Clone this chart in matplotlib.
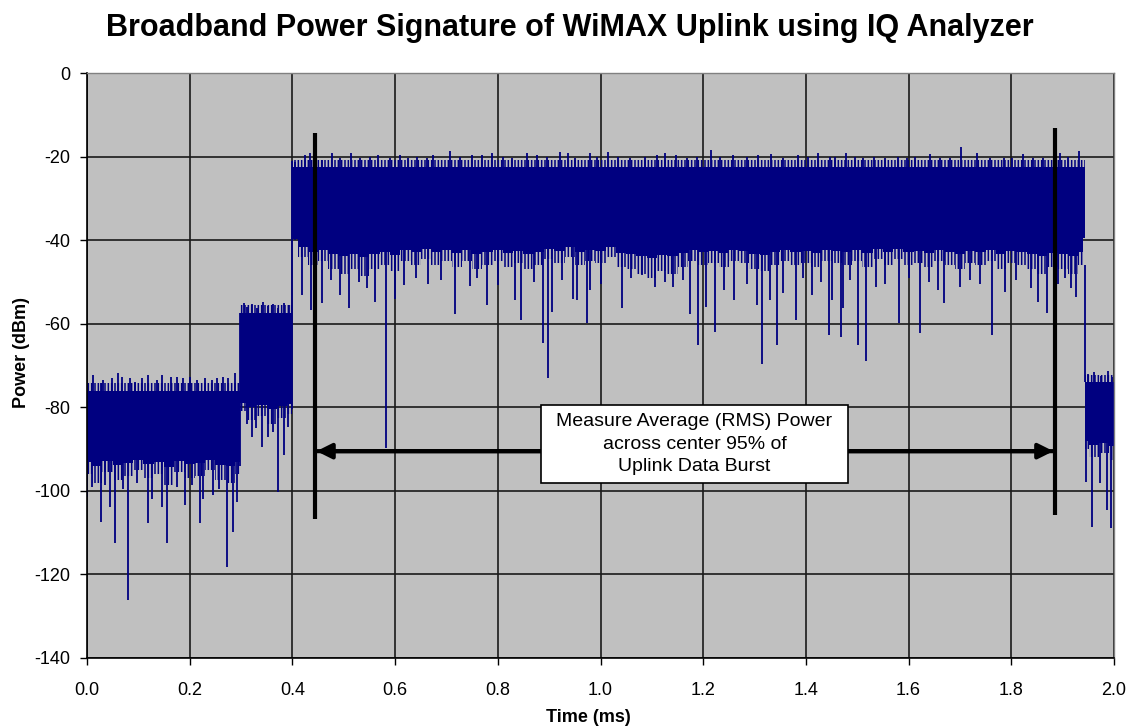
import numpy as np
import matplotlib
matplotlib.use('Agg')
from matplotlib import pyplot as plt
from matplotlib.patches import Rectangle

plt.rcParams['font.family'] = ['Liberation Sans', 'DejaVu Sans']
plt.rcParams['axes.unicode_minus'] = False
plt.rcParams['hatch.linewidth'] = 1.1

navy = '#000080'

# Solid core of each burst segment: start/end (ms), upper and inner lower level (dBm)
seg_start = [0.0, 0.298, 0.400, 1.943]
seg_end = [0.298, 0.400, 1.943, 2.0]
seg_top = [-76.0, -57.4, -22.6, -74.0]
seg_core = [-90.0, -77.0, -39.5, -86.0]

# Ragged lower edge of the dense part, read every 0.02 ms
edge_t_pre = [0.0, 0.02, 0.04, 0.06, 0.08, 0.10, 0.12, 0.14, 0.16, 0.18, 0.20, 0.22, 0.24, 0.26, 0.28, 0.298]
edge_v_pre = [-96.0, -98.0, -95.5, -97.5, -96.5, -95.0, -97.0, -96.0, -98.5, -95.5, -97.0, -96.5, -95.0, -97.5, -98.0, -96.0]
edge_t_pre2 = [0.298, 0.32, 0.34, 0.36, 0.38, 0.400]
edge_v_pre2 = [-81.0, -83.0, -82.0, -84.0, -82.5, -81.5]
edge_v_data = [-40.0, -44.0, -46.0, -45.0, -47.0, -48.0, -47.0, -48.5, -47.0, -46.0,
               -47.5, -45.0, -46.0, -44.5, -46.0, -45.0, -46.5, -45.0, -47.0, -46.0,
               -45.0, -46.5, -45.5, -47.0, -46.0, -44.5, -45.5, -44.0, -46.0, -45.0,
               -45.5, -44.0, -46.5, -47.0, -48.0, -49.0, -47.5, -48.0, -46.5, -45.0,
               -46.0, -45.5, -46.5, -45.0, -45.5, -47.0, -47.5, -46.0, -45.0, -46.0,
               -45.5, -46.5, -45.0, -45.5, -46.0, -45.0, -46.5, -44.5, -46.0, -44.5,
               -46.0, -45.5, -46.5, -45.0, -46.0, -47.0, -45.5, -46.0, -45.0, -47.0,
               -45.5, -46.0, -47.0, -48.0, -46.5, -47.0, -48.0, -46.0]
edge_t_data = np.linspace(0.40, 1.94, len(edge_v_data))
edge_t_post = [1.943, 1.96, 1.98, 2.0]
edge_v_post = [-90.0, -92.0, -91.0, -92.5]

# Upward peaks above the dense part: time (ms), peak (dBm)
peak_t = [0.012, 0.027, 0.031, 0.049, 0.060, 0.068, 0.084, 0.094, 0.107, 0.119, 0.136, 0.146,
          0.164, 0.175, 0.187, 0.201, 0.214, 0.230, 0.243, 0.253, 0.265, 0.275, 0.288,
          0.305, 0.312, 0.322, 0.331, 0.343, 0.352, 0.363, 0.372, 0.384, 0.393,
          0.400, 0.405, 0.425, 0.434, 0.457, 0.477, 0.493, 0.514, 0.532, 0.551, 0.567, 0.590,
          0.610, 0.626, 0.642, 0.662, 0.674, 0.707, 0.726, 0.749, 0.769, 0.788, 0.811, 0.827,
          0.856, 0.876, 0.895, 0.921, 0.937, 0.950, 0.979, 0.993, 1.015, 1.035, 1.057, 1.087,
          1.110, 1.126, 1.148, 1.168, 1.187, 1.215, 1.233, 1.259, 1.285, 1.307, 1.333, 1.356,
          1.385, 1.405, 1.424, 1.447, 1.457, 1.479, 1.496, 1.512, 1.532, 1.554, 1.580, 1.596,
          1.613, 1.642, 1.661, 1.681, 1.703, 1.733, 1.758, 1.785, 1.801, 1.822, 1.843, 1.862,
          1.894, 1.911, 1.931,
          1.950, 1.962, 1.975, 1.988, 1.996]
peak_v = [-72.3, -74.3, -73.5, -73.1, -71.9, -72.7, -73.1, -73.9, -73.1, -72.3, -73.5, -72.3,
          -72.7, -72.7, -73.1, -72.7, -73.5, -73.1, -73.5, -73.1, -72.7, -73.1, -71.9,
          -55.0, -56.0, -55.2, -56.3, -54.8, -55.8, -55.4, -56.2, -55.0, -55.6,
          -21.0, -21.2, -19.6, -19.2, -20.8, -19.2, -20.4, -19.1, -20.4, -20.0, -19.6, -20.4,
          -19.6, -20.4, -20.0, -20.4, -19.6, -18.6, -20.0, -19.6, -19.6, -19.2, -20.0, -20.4,
          -19.2, -19.6, -20.0, -18.8, -19.2, -20.4, -19.2, -20.0, -18.8, -20.0, -20.4, -20.0,
          -19.6, -19.2, -19.6, -20.4, -20.0, -18.4, -20.0, -19.6, -20.0, -19.6, -19.4, -20.4,
          -19.6, -20.0, -19.1, -20.0, -20.0, -19.2, -20.0, -20.4, -20.0, -20.4, -20.0, -20.4,
          -20.0, -19.4, -20.4, -20.4, -17.6, -19.2, -20.4, -20.4, -20.4, -19.4, -20.4, -20.4,
          -19.2, -20.0, -18.6,
          -72.0, -71.5, -72.5, -71.2, -72.8]

# Downward dips below the dense part: time (ms), dip (dBm)
dip_t = [0.0, 0.027, 0.045, 0.055, 0.080, 0.119, 0.127, 0.146, 0.156, 0.191, 0.220, 0.226,
         0.245, 0.272, 0.284, 0.292, 0.010, 0.036, 0.070, 0.098, 0.175, 0.205, 0.258,
         0.311, 0.321, 0.341, 0.352, 0.372, 0.384, 0.391, 0.330, 0.362,
         0.419, 0.436, 0.458, 0.493, 0.510, 0.561, 0.582, 0.600, 0.617, 0.717, 0.779, 0.800,
         0.834, 0.845, 0.888, 0.898, 0.906, 0.946, 0.954, 0.974, 0.980, 1.042, 1.081, 1.106,
         1.141, 1.174, 1.190, 1.205, 1.223, 1.241, 1.260, 1.305, 1.315, 1.330, 1.344, 1.356,
         1.381, 1.412, 1.445, 1.451, 1.468, 1.472, 1.501, 1.517, 1.537, 1.581, 1.622, 1.657,
         1.669, 1.700, 1.762, 1.788, 1.838, 1.852, 1.869, 1.916, 1.926,
         0.445, 0.475, 0.530, 0.545, 0.640, 0.665, 0.690, 0.745, 0.760, 0.870, 0.925, 1.000,
         1.060, 1.125, 1.160, 1.285, 1.395, 1.430, 1.485, 1.555, 1.600, 1.640, 1.720, 1.740,
         1.810, 1.890, 1.905,
         1.945, 1.957, 1.973, 1.986, 1.994]
dip_v = [-101.4, -107.4, -103.8, -112.5, -126.1, -107.7, -102.0, -103.8, -112.5, -103.4, -107.7, -102.0,
         -101.0, -118.2, -109.8, -102.6, -99.0, -98.5, -99.5, -98.0, -99.0, -98.5, -99.5,
         -84.0, -87.0, -89.5, -87.0, -100.3, -91.4, -84.7, -85.0, -86.0,
         -53.1, -56.7, -55.1, -53.1, -56.2, -54.8, -89.7, -54.1, -50.7, -57.7, -55.5, -50.7,
         -54.3, -59.1, -64.6, -73.0, -57.2, -54.1, -54.3, -59.8, -51.9, -56.2, -48.3, -51.2,
         -51.2, -57.7, -65.1, -56.0, -62.0, -51.9, -54.3, -55.5, -69.6, -54.3, -65.1, -52.6,
         -59.1, -53.1, -62.7, -54.3, -63.2, -56.2, -65.1, -68.9, -51.2, -59.8, -62.2, -51.9,
         -55.1, -51.2, -62.7, -52.4, -51.4, -54.8, -57.4, -51.4, -53.6,
         -50.5, -49.5, -50.0, -51.5, -49.0, -50.5, -49.5, -51.0, -49.0, -50.0, -49.5, -50.5,
         -49.0, -50.0, -49.5, -50.5, -49.0, -50.0, -49.5, -50.5, -49.0, -50.0, -49.5, -50.5,
         -49.5, -50.5, -49.0,
         -97.9, -108.6, -98.1, -104.6, -108.9]

# Measurement window markers (ms) and annotation
win_start, win_end = 0.444, 1.885
note = "Measure Average (RMS) Power\nacross center 95% of\nUplink Data Burst"

fig = plt.figure(figsize=(11.32, 7.27), dpi=100)
ax = fig.add_axes([87 / 1132, 1 - 658 / 727, 1027 / 1132, 585 / 727])
ax.set_facecolor('#C0C0C0')

# solid core of the bursts
for s, e, top, core in zip(seg_start, seg_end, seg_top, seg_core):
    ax.fill_between([s, e], [core, core], [top, top], color=navy, lw=0, zorder=2)
    # comb of fine samples along the top edge
    ax.fill_between([s, e], [top, top], [top + 1.8, top + 1.8], facecolor='none',
                    edgecolor=navy, hatch='|||||', lw=0, zorder=2)

# ragged lower edge: fine samples between core and edge
for tt, vv, core in [(edge_t_pre, edge_v_pre, seg_core[0]), (edge_t_pre2, edge_v_pre2, seg_core[1]),
                     (edge_t_data, edge_v_data, seg_core[2]), (edge_t_post, edge_v_post, seg_core[3])]:
    ax.fill_between(tt, vv, core, step='mid', facecolor='none', edgecolor=navy,
                    hatch='|||||', lw=0, zorder=2)
    ax.fill_between(tt, np.array(vv) * 0.5 + core * 0.5, core, step='mid', color=navy,
                    lw=0, zorder=2)

# edges between segments
ax.vlines([0.298, 0.400, 1.943], [-94.0, -80.5, -74.0], [-57.5, -22.5, -46.0],
          color=navy, lw=1.3, zorder=2)

edges = np.array(seg_start + [2.01])
pi = np.searchsorted(edges, peak_t, side='right') - 1
di = np.searchsorted(edges, dip_t, side='right') - 1
ax.vlines(peak_t, np.array(seg_top)[pi], peak_v, color=navy, lw=1.3, zorder=2)
ax.vlines(dip_t, np.array(seg_core)[di], dip_v, color=navy, lw=1.3, zorder=2)

# axes styling
ax.set_xlim(0, 2.0)
ax.set_ylim(-140, 0)
ax.set_xticks(np.arange(0, 2.01, 0.2))
ax.set_xticklabels([f'{v:.1f}' for v in np.arange(0, 2.01, 0.2)])
ax.set_yticks(np.arange(-140, 1, 20))
ax.grid(True, color='#1a1a1a', lw=1.2, zorder=1)
ax.set_axisbelow(True)
ax.tick_params(axis='both', direction='out', length=5, width=1, labelsize=13)
ax.tick_params(axis='x', pad=12)
ax.tick_params(axis='y', pad=7)
for s in ['left', 'bottom']:
    ax.spines[s].set_color('black')
    ax.spines[s].set_linewidth(1.2)
for s in ['top', 'right']:
    ax.spines[s].set_color('#808080')
    ax.spines[s].set_linewidth(1.0)

# window markers and arrow
ax.vlines([win_start, win_end], [-106.7, -105.8], [-14.4, -13.2], color='black', lw=3, zorder=4)
for a, b in [(win_start + 0.003, win_end - 0.003), (win_end - 0.003, win_start + 0.003)]:
    ax.annotate('', xy=(a, -90.5), xytext=(b, -90.5),
                arrowprops=dict(arrowstyle='-|>,head_length=0.9,head_width=0.45', lw=3,
                                color='black', shrinkA=0, shrinkB=0), zorder=4)
ax.add_patch(Rectangle((0.884, -98.1), 0.598, 18.7, fc='white', ec='black', lw=1.2, zorder=5))
ax.text(1.183, -88.8, note, ha='center', va='center', fontsize=14, linespacing=1.42, zorder=6)

fig.text(0.5035, 1 - 28 / 727, 'Broadband Power Signature of WiMAX Uplink using IQ Analyzer',
         ha='center', va='center', fontsize=22, fontweight='bold')
fig.text(588 / 1132, 1 - 717 / 727, 'Time (ms)', ha='center', va='center', fontsize=13,
         fontweight='bold')
fig.text(22 / 1132, 1 - 352 / 727, 'Power (dBm)', ha='center', va='center', fontsize=13,
         fontweight='bold', rotation=90)

fig.savefig('out.png', dpi=100)
